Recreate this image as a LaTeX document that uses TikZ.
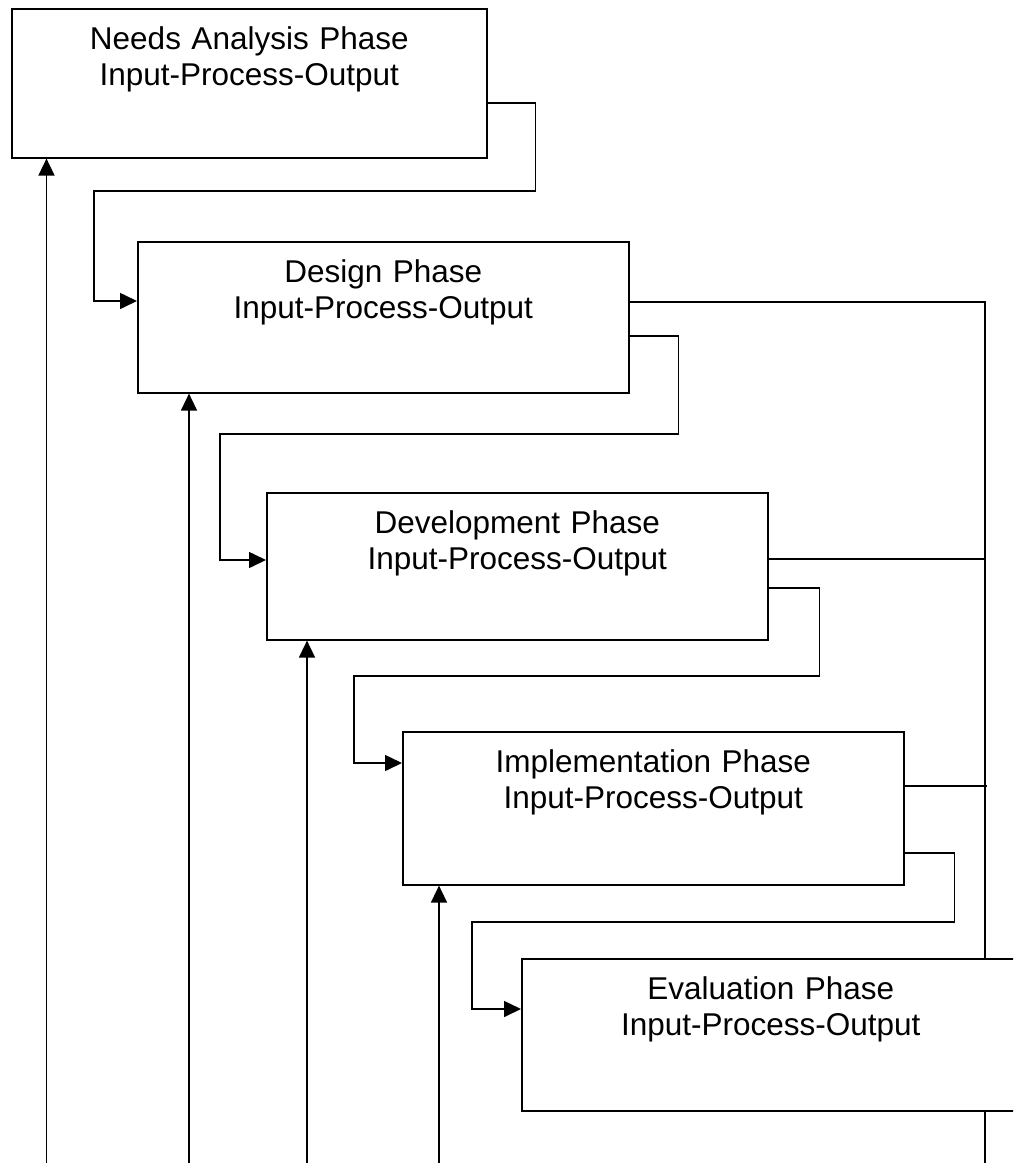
\documentclass[tikz,border=0pt]{standalone}
\usepackage{fontspec}
\setmainfont{Liberation Sans}
\usetikzlibrary{arrows.meta,calc}

\tikzset{
  phasebox/.style={draw, line width=1.6pt, rectangle, inner sep=0pt, anchor=north west},
  phasetext/.style={anchor=base, align=center, text width=440pt, inner sep=0pt,
                    font=\fontsize{31.5}{36}\selectfont},
  link/.style={line width=1.6pt},
  flow/.style={link, -{Triangle[length=17pt,width=16pt]}}
}

\begin{document}
\begin{tikzpicture}[x=1pt, y=-1pt]
  \useasboundingbox (0,0) rectangle (1013,1163);
  \clip (0,0) rectangle (1013,1163);

  % phase boxes
  \node[phasebox, minimum width=475pt, minimum height=149pt] (needs) at (11,8) {};
  \node[phasebox, minimum width=491pt, minimum height=151pt] (design) at (137,241) {};
  \node[phasebox, minimum width=501pt, minimum height=147pt] (devel) at (266,492) {};
  \node[phasebox, minimum width=501pt, minimum height=153pt] (impl) at (402,731) {};
  \node[phasebox, minimum width=498pt, minimum height=152pt] (evalb) at (521,958) {};

  % phase titles
  \node[phasetext] (needs-t)  at ($(needs.north)+(0,41)$)  {Needs Analysis Phase\\Input-Process-Output};
  \node[phasetext] (design-t) at ($(design.north)+(0,41)$) {Design Phase\\Input-Process-Output};
  \node[phasetext] (devel-t)  at ($(devel.north)+(0,41)$)  {Development Phase\\Input-Process-Output};
  \node[phasetext] (impl-t)   at ($(impl.north)+(0,41)$)   {Implementation Phase\\Input-Process-Output};
  \node[phasetext] (evalb-t)  at ($(evalb.north)+(0,41)$)  {Evaluation Phase\\Input-Process-Output};

  % forward flow from one phase to the next
  \draw[flow] ($(needs.north east)+(0,95)$) -- ++(48,0) |- (94,191)
              |- ($(design.north west)+(0,60)$);
  \draw[flow] ($(design.north east)+(0,95)$) -- ++(49,0) |- (220,434)
              |- ($(devel.north west)+(0,68)$);
  \draw[flow] ($(devel.north east)+(0,96)$) -- ++(51,0) |- (354,676)
              |- ($(impl.north west)+(0,32)$);
  \draw[flow] ($(impl.north east)+(0,122)$) -- ++(50,0) |- (472,922)
              |- ($(evalb.north west)+(0,51)$);

  % feedback rail on the right
  \coordinate (railtop) at (985,302);
  \coordinate (railbot) at (985,1163);
  \draw[link] ($(design.north east)+(0,61)$) -- (railtop) -- (railtop |- evalb.north);
  \draw[link] ($(devel.north east)+(0,67)$) -- (railtop |- 0,559);
  \draw[link] ($(impl.north east)+(0,55)$) -- (987,786);
  \draw[link] (railtop |- evalb.south) -- (railbot);

  % returns from below into each phase
  \coordinate (r1) at (46.5,1163);
  \coordinate (r2) at (189,1163);
  \coordinate (r3) at (307,1163);
  \coordinate (r4) at (439,1163);
  \draw[flow] (r1) -- (r1 |- needs.south);
  \draw[flow] (r2) -- (r2 |- design.south);
  \draw[flow] (r3) -- (r3 |- devel.south);
  \draw[flow] (r4) -- (r4 |- impl.south);
\end{tikzpicture}
\end{document}
